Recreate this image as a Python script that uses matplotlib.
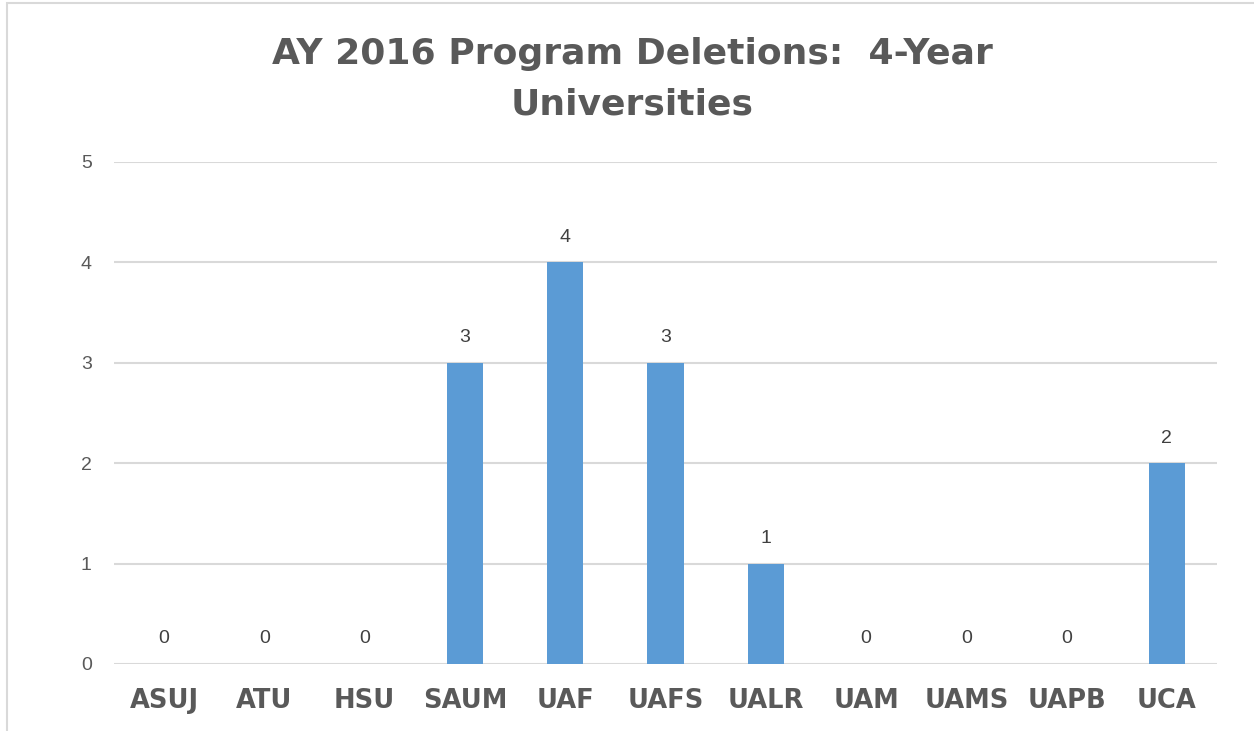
"""
AY 2016 program deletions at 4-year universities, bar chart in Excel style.
"""

import matplotlib
matplotlib.use("Agg")
import matplotlib.pyplot as plt
from matplotlib.patches import Rectangle

# ==============================================================================
#                               Chart data
# ==============================================================================

universities = ["ASUJ", "ATU", "HSU", "SAUM", "UAF", "UAFS", "UALR",
                "UAM", "UAMS", "UAPB", "UCA"]
deletions = [0, 0, 0, 3, 4, 3, 1, 0, 0, 0, 2]
y_ticks = [0, 1, 2, 3, 4, 5]

title = "AY 2016 Program Deletions:  4-Year\nUniversities"

bar_color = "#5B9BD5"
grid_color = "#D9D9D9"
text_gray = "#595959"
label_gray = "#404040"

plt.rcParams['font.family'] = ['Liberation Sans', 'DejaVu Sans']

fig = plt.figure(figsize=(12.54, 7.31), dpi=100)
W, H = 1254, 731
# axes placed in pixels: left 114, right 1217, top 162 (y=5), bottom 664 (y=0)
ax = fig.add_axes([114 / W, 1 - 664 / H, (1217 - 114) / W, (664 - 162) / H])

# chart border (only top and left edges are visible in the screenshot)
fig.patches.append(Rectangle((7 / W, -0.1), 1.2, 1 - 3 / H + 0.1,
                             transform=fig.transFigure, fill=False,
                             edgecolor=grid_color, linewidth=1.5))

x = range(len(universities))
bars = ax.bar(x, deletions, width=0.36, color=bar_color, zorder=3)

for xi, val in zip(x, deletions):
    ax.annotate(str(val), (xi, val), xytext=(0, 12), textcoords="offset points",
                ha="center", va="bottom", fontsize=14, color=label_gray)

ax.set_xlim(-0.5, len(universities) - 0.5)
ax.set_ylim(0, 5)
ax.set_yticks(y_ticks)
ax.set_xticks(list(x))
ax.set_xticklabels(universities, fontsize=18.5, fontweight="bold", color=text_gray,
                   family="DejaVu Sans")
ax.tick_params(axis="y", labelsize=14, labelcolor=text_gray, length=0, pad=16)
ax.tick_params(axis="x", length=0, pad=17)
ax.yaxis.grid(True, color=grid_color, linewidth=1.5, zorder=0)
ax.set_axisbelow(True)
for s in ax.spines.values():
    s.set_visible(False)

fig.text(632 / W, 1 - 79 / H, title, ha="center", va="center", fontsize=26,
         fontweight="bold", color=text_gray, linespacing=1.6,
         family="DejaVu Sans")

fig.savefig("out.png", dpi=100)
